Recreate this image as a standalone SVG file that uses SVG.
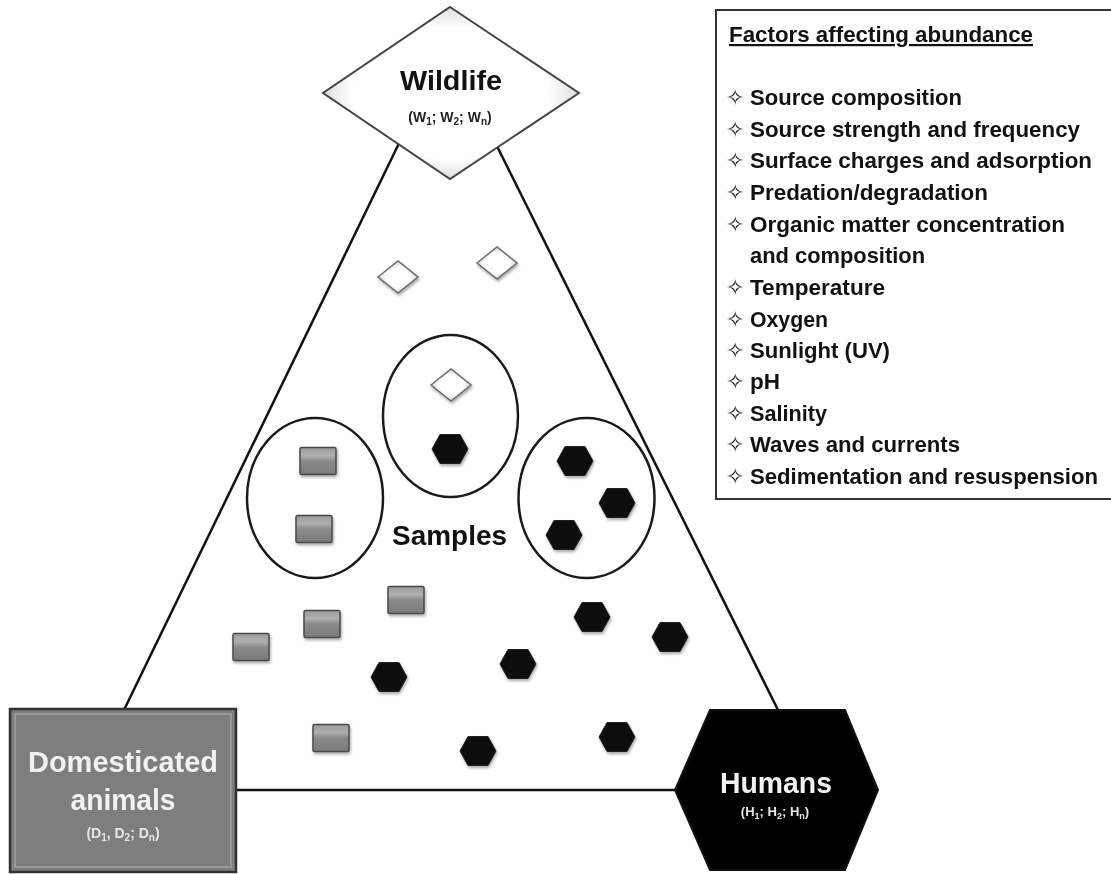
<svg xmlns="http://www.w3.org/2000/svg" xmlns:xlink="http://www.w3.org/1999/xlink" width="1111" height="874" viewBox="0 0 1111 874">
<style>
.lbl{font-family:"Liberation Sans",Arial,sans-serif;font-weight:bold}
.fac{font-family:"Liberation Sans",Arial,sans-serif;font-weight:bold;font-size:22.5px;fill:#111}
.bul{font-family:"DejaVu Sans",sans-serif;font-size:22px;fill:#222}
.conn{stroke:#111;stroke-width:2.5;fill:none}
.ell{stroke:#1a1a1a;stroke-width:2.5;fill:none}
.hex{fill:#080808;stroke:#222;stroke-width:1}
.sq{fill:url(#gsq);stroke:#4a4a4a;stroke-width:1.5}
.dia{fill:url(#gdia);stroke:#6a6a6a;stroke-width:1.5}
</style>
<defs>
<linearGradient id="gsq" x1="0" y1="0" x2="0" y2="1">
<stop offset="0" stop-color="#9a9a9a"/><stop offset="0.3" stop-color="#b0b0b0"/><stop offset="0.5" stop-color="#8a8a8a"/><stop offset="1" stop-color="#7a7a7a"/>
</linearGradient>
<radialGradient id="gdia" cx="0.5" cy="0.5" r="0.6">
<stop offset="0.5" stop-color="#ffffff"/><stop offset="1" stop-color="#bdbdbd"/>
</radialGradient>
<radialGradient id="gwild" cx="0.5" cy="0.5" r="0.55">
<stop offset="0.7" stop-color="#ffffff"/><stop offset="1" stop-color="#d0d0d0"/>
</radialGradient>
<filter id="sh" x="-30%" y="-30%" width="160%" height="160%">
<feGaussianBlur in="SourceAlpha" stdDeviation="1.5"/>
<feOffset dx="1" dy="1.5" result="b"/>
<feComponentTransfer><feFuncA type="linear" slope="0.35"/></feComponentTransfer>
<feMerge><feMergeNode/><feMergeNode in="SourceGraphic"/></feMerge>
</filter>
<path id="hex" class="hex" d="M-18,0 L-10,-14.5 L10,-14.5 L18,0 L10,14.5 L-10,14.5 Z"/>
<rect id="sq" class="sq" x="-18" y="-13.5" width="36" height="27" rx="1.5"/>
<path id="dia" class="dia" d="M-20,0 L0,-16 L20,0 L0,16 Z"/>
</defs>
<rect width="1111" height="874" fill="#ffffff"/>

<g id="connectors">
<line class="conn" x1="420" y1="100" x2="124" y2="710"/>
<line class="conn" x1="474" y1="100" x2="779" y2="712"/>
<line class="conn" x1="230" y1="790" x2="680" y2="790"/>
</g>

<g id="groupings">
<ellipse id="ell-left" class="ell" cx="315" cy="498" rx="68" ry="80"/>
<ellipse id="ell-mid" class="ell" cx="450.5" cy="416" rx="67.5" ry="81"/>
<ellipse id="ell-right" class="ell" cx="586.5" cy="498" rx="68" ry="80"/>
</g>

<g id="samples" filter="url(#sh)">
<g id="s-w1"><use xlink:href="#dia" x="398" y="277"/></g>
<g id="s-w2"><use xlink:href="#dia" x="497" y="263"/></g>
<g id="s-w3"><use xlink:href="#dia" x="451" y="385"/></g>
<g id="s-h1"><use xlink:href="#hex" x="450" y="449"/></g>
<g id="s-d1"><use xlink:href="#sq" x="318" y="461"/></g>
<g id="s-d2"><use xlink:href="#sq" x="314" y="529"/></g>
<g id="s-h2"><use xlink:href="#hex" x="575" y="461"/></g>
<g id="s-h3"><use xlink:href="#hex" x="617" y="503"/></g>
<g id="s-h4"><use xlink:href="#hex" x="564" y="535"/></g>
<g id="s-d3"><use xlink:href="#sq" x="251" y="647"/></g>
<g id="s-d4"><use xlink:href="#sq" x="322" y="624"/></g>
<g id="s-d5"><use xlink:href="#sq" x="406" y="600"/></g>
<g id="s-d6"><use xlink:href="#sq" x="331" y="738"/></g>
<g id="s-h5"><use xlink:href="#hex" x="389" y="677"/></g>
<g id="s-h6"><use xlink:href="#hex" x="518" y="664"/></g>
<g id="s-h7"><use xlink:href="#hex" x="592" y="617"/></g>
<g id="s-h8"><use xlink:href="#hex" x="670" y="637"/></g>
<g id="s-h9"><use xlink:href="#hex" x="478" y="751"/></g>
<g id="s-h10"><use xlink:href="#hex" x="617" y="737"/></g>
</g>

<g id="samples-label">
<text class="lbl" x="449.5" y="545" font-size="28" text-anchor="middle" fill="#111" textLength="115" lengthAdjust="spacingAndGlyphs">Samples</text>
</g>

<g id="wildlife">
<polygon points="450,7 579,93 450,179 323,93" fill="url(#gwild)" stroke="#444" stroke-width="2"/>
<text class="lbl" x="451" y="90" font-size="28" text-anchor="middle" fill="#111" textLength="102" lengthAdjust="spacingAndGlyphs">Wildlife</text>
<text class="lbl" x="450" y="122" font-size="14" text-anchor="middle" fill="#222">(W<tspan font-size="10" dy="3">1</tspan><tspan dy="-3">; W</tspan><tspan font-size="10" dy="3">2</tspan><tspan dy="-3">; W</tspan><tspan font-size="10" dy="3">n</tspan><tspan dy="-3">)</tspan></text>
</g>

<g id="domesticated">
<rect x="10" y="709" width="226" height="163" fill="#7e7e7e" stroke="#333" stroke-width="2.5"/>
<rect x="15" y="714" width="216" height="153" fill="none" stroke="#999" stroke-width="2"/>
<text class="lbl" x="123" y="772" font-size="29" text-anchor="middle" fill="#f2f2f2" textLength="190" lengthAdjust="spacingAndGlyphs">Domesticated</text>
<text class="lbl" x="123" y="810" font-size="29" text-anchor="middle" fill="#f2f2f2" textLength="105" lengthAdjust="spacingAndGlyphs">animals</text>
<text class="lbl" x="123" y="838" font-size="14" text-anchor="middle" fill="#e6e6e6">(D<tspan font-size="10" dy="3">1</tspan><tspan dy="-3">, D</tspan><tspan font-size="10" dy="3">2</tspan><tspan dy="-3">; D</tspan><tspan font-size="10" dy="3">n</tspan><tspan dy="-3">)</tspan></text>
</g>

<g id="humans">
<polygon points="710,710 845,710 878,790 845,870 710,870 675,790" fill="#000" stroke="#111" stroke-width="2"/>
<text class="lbl" x="776" y="793" font-size="29" text-anchor="middle" fill="#f2f2f2" textLength="112" lengthAdjust="spacingAndGlyphs">Humans</text>
<text class="lbl" x="775" y="816" font-size="13" text-anchor="middle" fill="#e6e6e6">(H<tspan font-size="9" dy="3">1</tspan><tspan dy="-3">; H</tspan><tspan font-size="9" dy="3">2</tspan><tspan dy="-3">; H</tspan><tspan font-size="9" dy="3">n</tspan><tspan dy="-3">)</tspan></text>
</g>

<g id="factors">
<rect x="716" y="10" width="404" height="489" fill="#fff" stroke="#333" stroke-width="2"/>
<text class="lbl" x="729" y="42" font-size="22" fill="#111" text-decoration="underline" textLength="304" lengthAdjust="spacingAndGlyphs">Factors affecting abundance</text>
<g class="bul">
<text x="726" y="105">✧</text>
<text x="726" y="137">✧</text>
<text x="726" y="168">✧</text>
<text x="726" y="200">✧</text>
<text x="726" y="232">✧</text>
<text x="726" y="295">✧</text>
<text x="726" y="327">✧</text>
<text x="726" y="358">✧</text>
<text x="726" y="389">✧</text>
<text x="726" y="421">✧</text>
<text x="726" y="452">✧</text>
<text x="726" y="484">✧</text>
</g>
<text class="fac" x="750" y="105" textLength="212" lengthAdjust="spacingAndGlyphs">Source composition</text>
<text class="fac" x="750" y="137" textLength="330" lengthAdjust="spacingAndGlyphs">Source strength and frequency</text>
<text class="fac" x="750" y="168" textLength="342" lengthAdjust="spacingAndGlyphs">Surface charges and adsorption</text>
<text class="fac" x="750" y="200" textLength="238" lengthAdjust="spacingAndGlyphs">Predation/degradation</text>
<text class="fac" x="750" y="232" textLength="315" lengthAdjust="spacingAndGlyphs">Organic matter concentration</text>
<text class="fac" x="750" y="263" textLength="175" lengthAdjust="spacingAndGlyphs">and composition</text>
<text class="fac" x="750" y="295" textLength="135" lengthAdjust="spacingAndGlyphs">Temperature</text>
<text class="fac" x="750" y="327" textLength="78" lengthAdjust="spacingAndGlyphs">Oxygen</text>
<text class="fac" x="750" y="358" textLength="140" lengthAdjust="spacingAndGlyphs">Sunlight (UV)</text>
<text class="fac" x="750" y="389" textLength="30" lengthAdjust="spacingAndGlyphs">pH</text>
<text class="fac" x="750" y="421" textLength="77" lengthAdjust="spacingAndGlyphs">Salinity</text>
<text class="fac" x="750" y="452" textLength="210" lengthAdjust="spacingAndGlyphs">Waves and currents</text>
<text class="fac" x="750" y="484" textLength="348" lengthAdjust="spacingAndGlyphs">Sedimentation and resuspension</text>
</g>
</svg>
